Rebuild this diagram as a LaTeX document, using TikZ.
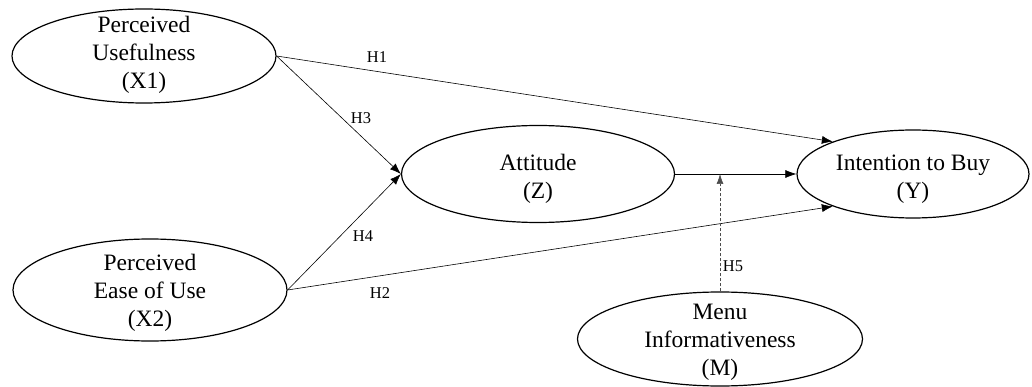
\documentclass[tikz,border=0pt]{standalone}
\usepackage{fontspec}
\setmainfont{Liberation Serif}
\usetikzlibrary{shapes.geometric,arrows.meta}
\begin{document}
\begin{tikzpicture}[x=1pt,y=-1pt,
  construct/.style={draw, line width=1.2pt, ellipse, inner sep=0pt},
  ctext/.style={align=center, inner sep=0pt, font=\fontsize{23.5}{28}\selectfont},
  path/.style={line width=0.6pt, -{Latex[length=11pt,width=8pt]}},
  modpath/.style={line width=0.6pt, dash pattern=on 3pt off 2pt, black!70, -{Latex[length=10pt,width=7pt]}},
  hlabel/.style={font=\fontsize{16.5}{19}\selectfont, inner sep=1pt}]
\useasboundingbox (0,0) rectangle (1032,387);
\node[construct, minimum width=264pt, minimum height=94pt,
  label={[ctext, yshift=1pt]center:Perceived\\Usefulness\\(X1)}] (X1) at (144,56) {};
\node[construct, minimum width=274pt, minimum height=102pt,
  label={[ctext, yshift=-3pt]center:Perceived\\Ease of Use\\(X2)}] (X2) at (150,290) {};
\node[construct, minimum width=273pt, minimum height=97pt,
  label={[ctext, yshift=-5pt]center:Attitude\\(Z)}] (Z) at (538,174) {};
\node[construct, minimum width=232pt, minimum height=88pt,
  label={[ctext, yshift=-5pt]center:Intention to Buy\\(Y)}] (Y) at (913,174) {};
\node[construct, minimum width=285pt, minimum height=94pt,
  label={[ctext, yshift=-3pt]center:Menu\\Informativeness\\(M)}] (M) at (720,339) {};
\draw[path] (X1.east) -- (Y.158);
\draw[path] (X1.east) -- (Z.west);
\draw[path] (X2.east) -- (Z.west);
\draw[path] (X2.east) -- (Y.202);
\draw[path] (Z.east) -- (Y.west);
\coordinate (modpt) at (M.north |- Z.east);
\draw[modpath] (M.north) -- (modpt);
\node[hlabel] (h1) at (377,57) {H1};
\node[hlabel] (h3) at (361,118) {H3};
\node[hlabel] (h4) at (363,236) {H4};
\node[hlabel] (h2) at (380,293) {H2};
\node[hlabel] (h5) at (733,266) {H5};
\end{tikzpicture}
\end{document}
